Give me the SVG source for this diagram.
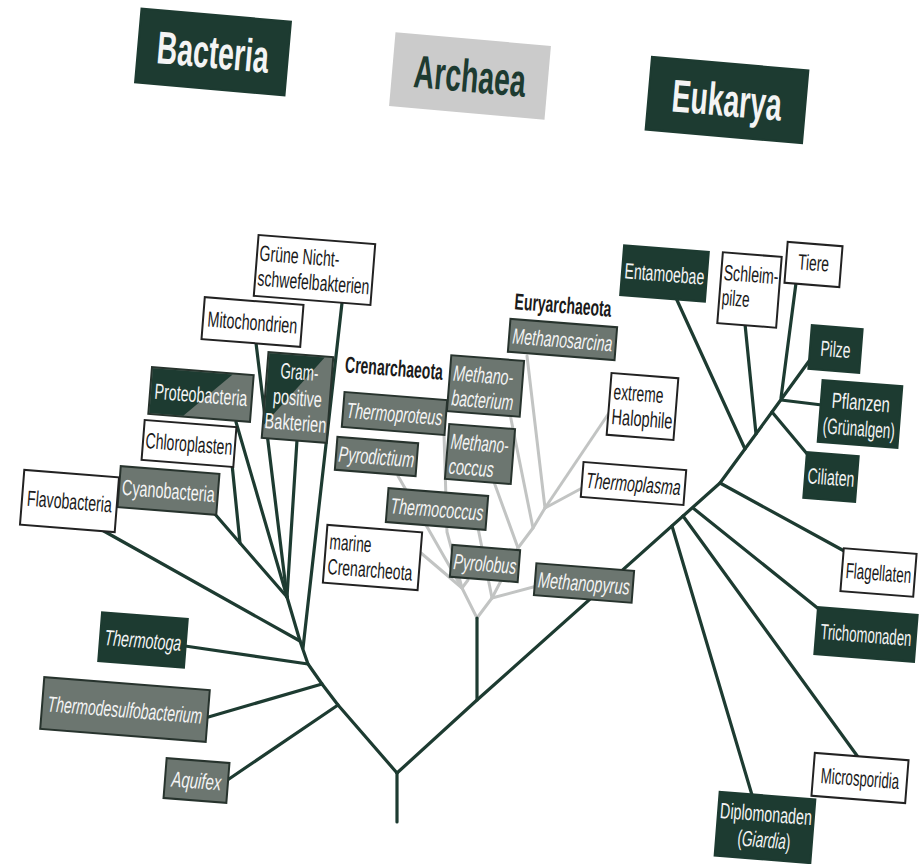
<svg xmlns="http://www.w3.org/2000/svg" width="919" height="864" viewBox="0 0 919 864">
<style>
.bg{fill:#ffffff}
.dk{fill:#1d3b31;stroke:#1d3b31;stroke-width:2}
.gr{fill:#6c7670;stroke:#27332d;stroke-width:2}
.wh{fill:#ffffff;stroke:#222;stroke-width:2}
.lh{fill:#cbcbcb;stroke:none}
.hd{fill:#1d3b31}
.t{font-family:"Liberation Sans Narrow","Liberation Sans",Arial,sans-serif;font-size:22px}
.w{fill:#f4f4f4}
.b{fill:#1a1a1a}
.i{font-style:italic}
.h{font-family:"Liberation Sans Narrow","Liberation Sans",Arial,sans-serif;font-size:46px;font-weight:bold}
.bl{font-weight:bold;font-size:23px}
.c{stroke:#1d3b31;stroke-width:3.2;fill:none;stroke-linecap:round;stroke-linejoin:round}
.a{stroke:#c2c4c3;stroke-width:3;fill:none;stroke-linecap:round;stroke-linejoin:round}
</style>
<rect class="bg" x="0" y="0" width="919" height="864"/>

<g id="connectors">
  <g id="archaea-lines">
    <path class="a" d="M477,618 L462,588"/>
    <path class="a" d="M462,588 L421,553"/>
    <path class="a" d="M462,588 L398,476"/>
    <path class="a" d="M462,588 L447,532 L444,434"/>
    <path class="a" d="M462,588 L468,580"/>
    <path class="a" d="M477,618 L492,598"/>
    <path class="a" d="M492,598 L537,586"/>
    <path class="a" d="M492,598 L478,528"/>
    <path class="a" d="M492,598 L518,548 L533,528 L545,508"/>
    <path class="a" d="M518,548 L494,482"/>
    <path class="a" d="M533,528 L510,414"/>
    <path class="a" d="M545,508 L527,356"/>
    <path class="a" d="M545,508 L611,410"/>
    <path class="a" d="M545,508 L584,487"/>
  </g>
  <path class="c" d="M397,822 L397,773"/>
  <path class="c" d="M397,773 L338,705 L322,684 L308,664 L300,641 L287,597"/>
  <path class="c" d="M397,773 L477,700 L720,483 L772,412 L812,357"/>
  <path class="c" d="M477,700 L477,618"/>
  <path class="c" d="M338,705 L226,781"/>
  <path class="c" d="M322,684 L205,718"/>
  <path class="c" d="M308,664 L185,646"/>
  <path class="c" d="M300,641 L102,530"/>
  <path class="c" d="M303,648 L342,303"/>
  <path class="c" d="M287,597 L236,422"/>
  <path class="c" d="M287,597 L256,343"/>
  <path class="c" d="M287,597 L297,440"/>
  <path class="c" d="M287,597 L240,543 L232,464"/>
  <path class="c" d="M240,543 L214,513"/>
  <path class="c" d="M672,526 L752,795"/>
  <path class="c" d="M683,516 L858,757"/>
  <path class="c" d="M693,508 L820,610"/>
  <path class="c" d="M720,483 L846,552"/>
  <path class="c" d="M745,449 L676,298"/>
  <path class="c" d="M756,434 L745,324"/>
  <path class="c" d="M772,412 L808,455"/>
  <path class="c" d="M781,398 L796,283"/>
  <path class="c" d="M781,400 L822,405"/>
</g>

<g id="header-bacteria" transform="translate(213,52) rotate(5)">
  <rect class="dk" x="-75" y="-37" width="150" height="74"/>
  <text class="h w" x="0" y="16" text-anchor="middle" textLength="112" lengthAdjust="spacingAndGlyphs">Bacteria</text>
</g>
<g id="header-archaea" transform="translate(470,76) rotate(5)">
  <rect class="lh" x="-78" y="-37" width="156" height="74"/>
  <text class="h hd" x="0" y="16" text-anchor="middle" textLength="112" lengthAdjust="spacingAndGlyphs">Archaea</text>
</g>
<g id="header-eukarya" transform="translate(727,100) rotate(5)">
  <rect class="dk" x="-78.5" y="-36.5" width="157" height="73"/>
  <text class="h w" x="0" y="16" text-anchor="middle" textLength="110" lengthAdjust="spacingAndGlyphs">Eukarya</text>
</g>

<g id="gruene" transform="translate(314.5,270) rotate(4.5)">
  <rect class="wh" x="-58.5" y="-30.5" width="117" height="61"/>
  <text class="t b" x="-56" y="-5" textLength="80" lengthAdjust="spacingAndGlyphs">Grüne Nicht-</text>
  <text class="t b" x="-56" y="20" textLength="112" lengthAdjust="spacingAndGlyphs">schwefelbakterien</text>
</g>
<g id="mitochondrien" transform="translate(252.5,322) rotate(4.5)">
  <rect class="wh" x="-49.5" y="-21" width="99" height="42"/>
  <text class="t b" x="0" y="8" text-anchor="middle" textLength="90" lengthAdjust="spacingAndGlyphs">Mitochondrien</text>
</g>
<g id="grampositive" transform="translate(297.5,397.5) rotate(4.5)">
  <rect class="gr" x="-32.5" y="-43" width="65" height="86"/>
  <polygon fill="#1d3b31" points="-31.5,-42 24,-42 -31.5,30"/>
  <text class="t w" x="0" y="-18" text-anchor="middle" textLength="38" lengthAdjust="spacingAndGlyphs">Gram-</text>
  <text class="t w" x="0" y="8" text-anchor="middle" textLength="49" lengthAdjust="spacingAndGlyphs">positive</text>
  <text class="t w" x="0" y="33" text-anchor="middle" textLength="62" lengthAdjust="spacingAndGlyphs">Bakterien</text>
</g>
<g id="proteobacteria" transform="translate(201,394.5) rotate(4.5)">
  <rect class="gr" x="-51" y="-23.5" width="102" height="47"/>
  <polygon fill="#1d3b31" points="-50,-22.5 30,-22.5 -16,22.5 -50,22.5"/>
  <text class="t w" x="0" y="8" text-anchor="middle" textLength="93" lengthAdjust="spacingAndGlyphs">Proteobacteria</text>
</g>
<g id="chloroplasten" transform="translate(189,443.5) rotate(4.5)">
  <rect class="wh" x="-46" y="-20" width="92" height="40"/>
  <text class="t b" x="0" y="8" text-anchor="middle" textLength="87" lengthAdjust="spacingAndGlyphs">Chloroplasten</text>
</g>
<g id="cyanobacteria" transform="translate(168.5,490.5) rotate(4.5)">
  <rect class="gr" x="-49.5" y="-20.5" width="99" height="41"/>
  <text class="t w" x="0" y="8" text-anchor="middle" textLength="93" lengthAdjust="spacingAndGlyphs">Cyanobacteria</text>
</g>
<g id="flavobacteria" transform="translate(69.5,501) rotate(4.5)">
  <rect class="wh" x="-47.5" y="-27.5" width="95" height="55"/>
  <text class="t b" x="0" y="8" text-anchor="middle" textLength="85" lengthAdjust="spacingAndGlyphs">Flavobacteria</text>
</g>
<g id="thermotoga" transform="translate(143,640) rotate(4.5)">
  <rect class="dk" x="-43" y="-24.5" width="86" height="49"/>
  <text class="t w i" x="0" y="8" text-anchor="middle" textLength="77" lengthAdjust="spacingAndGlyphs">Thermotoga</text>
</g>
<g id="thermodesulfobacterium" transform="translate(125,709.5) rotate(4.5)">
  <rect class="gr" x="-83" y="-26" width="166" height="52"/>
  <text class="t w i" x="0" y="8" text-anchor="middle" textLength="155" lengthAdjust="spacingAndGlyphs">Thermodesulfobacterium</text>
</g>
<g id="aquifex" transform="translate(196.5,780.5) rotate(4.5)">
  <rect class="gr" x="-31.5" y="-20" width="63" height="40"/>
  <text class="t w i" x="0" y="8" text-anchor="middle" textLength="50" lengthAdjust="spacingAndGlyphs">Aquifex</text>
</g>

<g id="euryarchaeota" transform="translate(563,306) rotate(4.5)">
  <text class="t b bl" x="0" y="7" text-anchor="middle" textLength="97" lengthAdjust="spacingAndGlyphs">Euryarchaeota</text>
</g>
<g id="methanosarcina" transform="translate(562.5,339.5) rotate(4.5)">
  <rect class="gr" x="-53.5" y="-16.5" width="107" height="33"/>
  <text class="t w i" x="0" y="8" text-anchor="middle" textLength="100" lengthAdjust="spacingAndGlyphs">Methanosarcina</text>
</g>
<g id="crenarchaeota" transform="translate(394,369) rotate(4.5)">
  <text class="t b bl" x="0" y="7" text-anchor="middle" textLength="98" lengthAdjust="spacingAndGlyphs">Crenarchaeota</text>
</g>
<g id="methanobacterium" transform="translate(485.5,386) rotate(4.5)">
  <rect class="gr" x="-36.5" y="-28" width="73" height="56"/>
  <text class="t w i" x="-33" y="-3" textLength="60" lengthAdjust="spacingAndGlyphs">Methano-</text>
  <text class="t w i" x="-33" y="22" textLength="62" lengthAdjust="spacingAndGlyphs">bacterium</text>
</g>
<g id="thermoproteus" transform="translate(394.5,413.5) rotate(4.5)">
  <rect class="gr" x="-51.5" y="-17.5" width="103" height="35"/>
  <text class="t w i" x="0" y="8" text-anchor="middle" textLength="96" lengthAdjust="spacingAndGlyphs">Thermoproteus</text>
</g>
<g id="methanococcus" transform="translate(480,454) rotate(4.5)">
  <rect class="gr" x="-33" y="-27.5" width="66" height="55"/>
  <text class="t w i" x="-30" y="-3" textLength="58" lengthAdjust="spacingAndGlyphs">Methano-</text>
  <text class="t w i" x="-30" y="22" textLength="45" lengthAdjust="spacingAndGlyphs">coccus</text>
</g>
<g id="pyrodictium" transform="translate(376.5,456.5) rotate(4.5)">
  <rect class="gr" x="-40.5" y="-16.5" width="81" height="33"/>
  <text class="t w i" x="0" y="8" text-anchor="middle" textLength="76" lengthAdjust="spacingAndGlyphs">Pyrodictium</text>
</g>
<g id="halophile" transform="translate(642.5,406.5) rotate(4.5)">
  <rect class="wh" x="-33.5" y="-31" width="67" height="62"/>
  <text class="t b" x="-30" y="-5" textLength="50" lengthAdjust="spacingAndGlyphs">extreme</text>
  <text class="t b" x="-30" y="20" textLength="61" lengthAdjust="spacingAndGlyphs">Halophile</text>
</g>
<g id="thermoplasma" transform="translate(633.5,483.5) rotate(4.5)">
  <rect class="wh" x="-51.5" y="-17.5" width="103" height="35"/>
  <text class="t b i" x="0" y="8" text-anchor="middle" textLength="95" lengthAdjust="spacingAndGlyphs">Thermoplasma</text>
</g>
<g id="thermococcus" transform="translate(437,509) rotate(4.5)">
  <rect class="gr" x="-50" y="-17" width="100" height="34"/>
  <text class="t w i" x="0" y="8" text-anchor="middle" textLength="93" lengthAdjust="spacingAndGlyphs">Thermococcus</text>
</g>
<g id="marine-crenarcheota" transform="translate(372.5,557.5) rotate(4.5)">
  <rect class="wh" x="-47.5" y="-29" width="95" height="58"/>
  <text class="t b" x="-44" y="-5" textLength="42" lengthAdjust="spacingAndGlyphs">marine</text>
  <text class="t b" x="-44" y="20" textLength="85" lengthAdjust="spacingAndGlyphs">Crenarcheota</text>
</g>
<g id="pyrolobus" transform="translate(485,563.5) rotate(4.5)">
  <rect class="gr" x="-34" y="-16" width="68" height="32"/>
  <text class="t w i" x="0" y="8" text-anchor="middle" textLength="63" lengthAdjust="spacingAndGlyphs">Pyrolobus</text>
</g>
<g id="methanopyrus" transform="translate(584,583) rotate(4.5)">
  <rect class="gr" x="-49" y="-16" width="98" height="32"/>
  <text class="t w i" x="0" y="8" text-anchor="middle" textLength="92" lengthAdjust="spacingAndGlyphs">Methanopyrus</text>
</g>

<g id="entamoebae" transform="translate(664.5,273.5) rotate(4.5)">
  <rect class="dk" x="-42.5" y="-25" width="85" height="50"/>
  <text class="t w" x="0" y="8" text-anchor="middle" textLength="80" lengthAdjust="spacingAndGlyphs">Entamoebae</text>
</g>
<g id="schleimpilze" transform="translate(749.5,290) rotate(4.5)">
  <rect class="wh" x="-29.5" y="-35.5" width="59" height="71"/>
  <text class="t b" x="-27" y="-8" textLength="55" lengthAdjust="spacingAndGlyphs">Schleim-</text>
  <text class="t b" x="-27" y="17" textLength="28" lengthAdjust="spacingAndGlyphs">pilze</text>
</g>
<g id="tiere" transform="translate(813.5,264.5) rotate(4.5)">
  <rect class="wh" x="-27.5" y="-20.5" width="55" height="41"/>
  <text class="t b" x="0" y="6" text-anchor="middle" textLength="31" lengthAdjust="spacingAndGlyphs">Tiere</text>
</g>
<g id="pilze" transform="translate(835.5,349) rotate(4.5)">
  <rect class="dk" x="-25.5" y="-22" width="51" height="44"/>
  <text class="t w" x="0" y="8" text-anchor="middle" textLength="30" lengthAdjust="spacingAndGlyphs">Pilze</text>
</g>
<g id="pflanzen" transform="translate(860,414) rotate(4.5)">
  <rect class="dk" x="-40" y="-31" width="80" height="62"/>
  <text class="t w" transform="translate(0,-4) scale(0.68,1)" x="0" y="0" text-anchor="middle">Pflanzen</text>
  <text class="t w" transform="translate(0,22) scale(0.615,1)" x="0" y="0" text-anchor="middle">(Grünalgen)</text>
</g>
<g id="ciliaten" transform="translate(831,477) rotate(4.5)">
  <rect class="dk" x="-26" y="-23" width="52" height="46"/>
  <text class="t w" x="0" y="8" text-anchor="middle" textLength="47" lengthAdjust="spacingAndGlyphs">Ciliaten</text>
</g>
<g id="flagellaten" transform="translate(878.5,572.5) rotate(4.5)">
  <rect class="wh" x="-36.5" y="-21.5" width="73" height="43"/>
  <text class="t b" transform="translate(0,8) scale(0.61,1)" x="0" y="0" text-anchor="middle">Flagellaten</text>
</g>
<g id="trichomonaden" transform="translate(866,634.5) rotate(4.5)">
  <rect class="dk" x="-50" y="-23.5" width="100" height="47"/>
  <text class="t w" transform="translate(0,8) scale(0.6,1)" x="0" y="0" text-anchor="middle">Trichomonaden</text>
</g>
<g id="microsporidia" transform="translate(860,778) rotate(4.5)">
  <rect class="wh" x="-47" y="-21.5" width="94" height="43"/>
  <text class="t b" transform="translate(0,8) scale(0.6,1)" x="0" y="0" text-anchor="middle">Microsporidia</text>
</g>
<g id="diplomonaden" transform="translate(765,827.5) rotate(4.5)">
  <rect class="dk" x="-48" y="-32" width="96" height="64"/>
  <text class="t w" x="0" y="-6" text-anchor="middle" textLength="92" lengthAdjust="spacingAndGlyphs">Diplomonaden</text>
  <text class="t w" x="0" y="20" text-anchor="middle" textLength="53" lengthAdjust="spacingAndGlyphs">(<tspan class="i">Giardia</tspan>)</text>
</g>
</svg>
